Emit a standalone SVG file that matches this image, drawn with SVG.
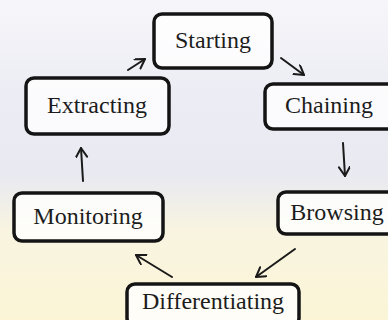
<svg xmlns="http://www.w3.org/2000/svg" width="388" height="320" viewBox="0 0 388 320">
  <defs>
    <linearGradient id="bg" x1="0" y1="0" x2="0" y2="1">
      <stop offset="0" stop-color="#f6f6fa"/>
      <stop offset="0.3" stop-color="#ececf4"/>
      <stop offset="0.55" stop-color="#e9e9f1"/>
      <stop offset="0.72" stop-color="#f8f4e0"/>
      <stop offset="1" stop-color="#fbf5d6"/>
    </linearGradient>
    <marker id="arr" markerWidth="14" markerHeight="14" refX="10" refY="6" orient="auto" markerUnits="userSpaceOnUse">
      <path d="M1,0.5 L10,6 L1,11.5" fill="none" stroke="#1a1a1a" stroke-width="2" stroke-linecap="round" stroke-linejoin="round"/>
    </marker>
  </defs>
  <style>
    .box { fill: #ffffff; fill-opacity: 0.8; stroke: #141414; stroke-width: 3.5; }
    .lbl { font-family: "Liberation Serif", "Times New Roman", serif; font-size: 24px; fill: #1c1c1c; text-anchor: middle; }
    .con { fill: none; stroke: #1a1a1a; stroke-width: 2; stroke-linecap: round; marker-end: url(#arr); }
  </style>
  <rect x="0" y="0" width="388" height="320" fill="url(#bg)"/>

  <g id="connectors">
    <line class="con" x1="128" y1="70" x2="145" y2="59"/>
    <line class="con" x1="281" y1="58" x2="304" y2="75"/>
    <line class="con" x1="343" y1="143" x2="345" y2="176"/>
    <line class="con" x1="295" y1="249" x2="256" y2="277"/>
    <line class="con" x1="172" y1="277" x2="136" y2="255"/>
    <line class="con" x1="83" y1="181" x2="81" y2="148"/>
  </g>

  <g id="starting">
    <rect class="box" x="154" y="14" width="118" height="54" rx="8"/>
    <text class="lbl" x="213" y="48">Starting</text>
  </g>
  <g id="chaining">
    <rect class="box" x="265" y="84" width="130" height="45" rx="8"/>
    <text class="lbl" x="329" y="113">Chaining</text>
  </g>
  <g id="browsing">
    <rect class="box" x="278" y="192" width="118" height="42" rx="8"/>
    <text class="lbl" x="337" y="220">Browsing</text>
  </g>
  <g id="differentiating">
    <rect class="box" x="127" y="284" width="172" height="42" rx="8"/>
    <text class="lbl" x="213" y="309">Differentiating</text>
  </g>
  <g id="monitoring">
    <rect class="box" x="14" y="193" width="149" height="48" rx="8"/>
    <text class="lbl" x="88" y="224">Monitoring</text>
  </g>
  <g id="extracting">
    <rect class="box" x="26" y="78" width="143" height="56" rx="8"/>
    <text class="lbl" x="97" y="113">Extracting</text>
  </g>
</svg>
